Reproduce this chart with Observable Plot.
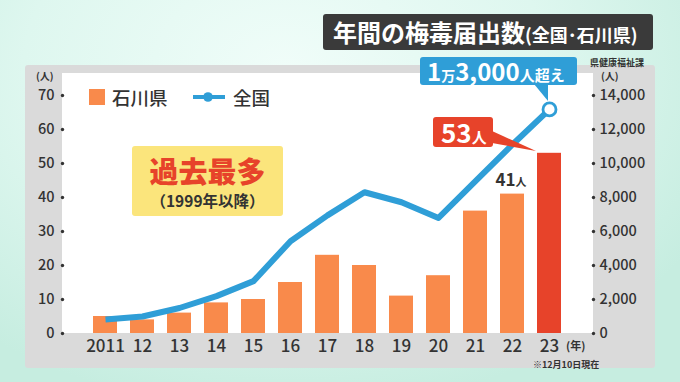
<!DOCTYPE html>
<html lang="ja">
<head>
<meta charset="utf-8">
<script src="https://cdn.jsdelivr.net/npm/d3@7"></script>
<script src="https://cdn.jsdelivr.net/npm/@observablehq/plot@0.6"></script>
<style>
  html, body { margin: 0; padding: 0; }
  body { width: 680px; height: 382px; overflow: hidden; font-family: "Noto Sans CJK JP", "Noto Sans", sans-serif; }
  #wrap { position: relative; width: 680px; height: 382px;
    background: radial-gradient(ellipse 70% 90% at 42% 18%, #f0fdf9 0%, #def7ef 55%, #c6ede0 100%); }
  .abs { position: absolute; }
  #panel { left: 25px; top: 65px; width: 630px; height: 303px; background: #dadada; border-radius: 3px; }
  #white { left: 62px; top: 73px; width: 531px; height: 260px; background: #ffffff; }
  #chart { left: 0; top: 0; }
  #title { left: 323px; top: 14px; width: 330px; height: 36px; background: #3a3a3a; border-radius: 3px;
    color: #fff; font-weight: 700; white-space: nowrap; box-sizing: border-box; padding-left: 10px; line-height: 36px; overflow: hidden; }
  #title .big { font-size: 24px; }
  #title .small { font-size: 18px; }
  #source { left: 560px; width: 84px; top: 58px; font-size: 9px; line-height: 10px; font-weight: 700; color: #333; text-align: right; }
  #yellow { left: 132px; top: 146px; width: 151px; height: 70px; background: #fbe57c; border-radius: 3px; text-align: center; }
  #yellow .a { position: absolute; left: 0; right: 0; top: 10px; font-size: 29px; line-height: 29px; font-weight: 900; color: #e7432a; }
  #yellow .b { position: absolute; left: 0; right: 0; top: 46px; font-size: 15.5px; line-height: 17px; font-weight: 700; color: #333; }
  .legend { font-size: 18.5px; font-weight: 500; color: #333; line-height: 20px; white-space: nowrap; }
  .note { color: #333; font-weight: 700; white-space: nowrap; }
</style>
</head>
<body>
<div id="wrap">
  <div id="panel" class="abs"></div>
  <div id="white" class="abs"></div>
  <div id="chart" class="abs"></div>
  <div id="title" class="abs"><span class="big">年間の梅毒届出数</span><span class="small">(全国･石川県)</span></div>
  <div id="source" class="abs">県健康福祉課</div>
  <div id="yellow" class="abs"><div class="a">過去最多</div><div class="b">（1999年以降）</div></div>
  <div class="abs" style="left:89px;top:89px;width:16px;height:16px;background:#f98a4b;"></div>
  <div class="abs legend" style="left:112px;top:87px;">石川県</div>
  <svg class="abs" style="left:190px;top:88px;" width="38" height="18"><line x1="3" y1="9" x2="35" y2="9" stroke="#2f9ed7" stroke-width="4"/><circle cx="18" cy="9" r="4.8" fill="#2f9ed7"/></svg>
  <div class="abs legend" style="left:233px;top:87px;">全国</div>
  <div class="abs note" style="left:36px;top:71px;font-size:10px;line-height:10px;">(人)</div>
  <div class="abs note" style="left:601px;top:71px;font-size:10px;line-height:10px;">(人)</div>
  <div class="abs note" style="left:566px;top:339px;font-size:11px;line-height:13px;">(年)</div>
  <div class="abs note" style="left:533px;top:359px;font-size:9px;line-height:11px;">※12月10日現在</div>
  <!-- callouts -->
  <svg class="abs" style="left:0;top:0;" width="680" height="382" pointer-events="none">
    <rect x="420" y="57" width="157" height="28" rx="3" fill="#2f9ed7"/>
    <polygon points="534,84 548,84 548,101" fill="#2f9ed7"/>
    <rect x="433" y="117" width="60" height="30" rx="3" fill="#e7432a"/>
    <polygon points="492,131 536,151 492,143" fill="#e7432a"/>
  </svg>
  <div class="abs" style="left:427px;top:56px;color:#fff;font-weight:700;white-space:nowrap;line-height:30px;">
    <span style="font-size:24px;">1</span><span style="font-size:14px;">万</span><span style="font-size:24px;">3,000</span><span style="font-size:15px;">人超え</span>
  </div>
  <div class="abs" style="left:441px;top:116px;color:#fff;font-weight:700;white-space:nowrap;line-height:32px;">
    <span style="font-size:26px;">53</span><span style="font-size:15px;">人</span>
  </div>
</div>
<script>
// ---- data ----
const years = ["2011","12","13","14","15","16","17","18","19","20","21","22","23"];
const ishikawa = [5, 4, 6, 9, 10, 15, 23, 20, 11, 17, 36, 41, 53];
const national = [830, 1000, 1500, 2200, 3080, 5430, 6950, 8310, 7720, 6800, 8960, 11120, 13180];
const leftTicks = [0, 10, 20, 30, 40, 50, 60, 70];
const rightTicks = [0, 2000, 4000, 6000, 8000, 10000, 12000, 14000];
const highlightYear = "23";
const labelYear = "22";

const ratio = rightTicks[rightTicks.length - 1] / leftTicks[leftTicks.length - 1];
const bars = years.map((y, i) => ({year: y, value: ishikawa[i]}));
const natl = years.map((y, i) => ({year: y, value: national[i], scaled: national[i] / ratio}));
const fmt = d3.format(",");

const ORANGE = "#f98a4b", RED = "#e7432a", BLUE = "#2f9ed7", INK = "#333333";

const chart = Plot.plot({
  width: 680,
  height: 382,
  marginLeft: 62,
  marginRight: 87,
  marginTop: 95,
  marginBottom: 49,
  style: {background: "transparent", fontFamily: "'Noto Sans CJK JP', 'Noto Sans', sans-serif", color: INK, overflow: "visible"},
  x: {type: "band", domain: years, range: [75.8, 578.7], padding: 0.34, label: null},
  y: {domain: [0, 70], label: null},
  marks: [
    Plot.barY(bars.filter(d => d.year !== highlightYear), {x: "year", y: "value", fill: ORANGE}),
    Plot.barY(bars.filter(d => d.year === highlightYear), {x: "year", y: "value", fill: RED}),
    Plot.line(natl, {x: "year", y: "scaled", stroke: BLUE, strokeWidth: 6, strokeLinejoin: "round", strokeLinecap: "butt"}),
    Plot.dot(natl.filter(d => d.year === highlightYear), {x: "year", y: "scaled", r: 6.5, fill: "#fff", stroke: BLUE, strokeWidth: 2.8}),
    // label 41人
    Plot.text(bars.filter(d => d.year === labelYear), {x: "year", y: "value", text: d => String(d.value), dy: -14, dx: 3, textAnchor: "end", fontSize: 17, fontWeight: 700, fill: INK}),
    Plot.text(bars.filter(d => d.year === labelYear), {x: "year", y: "value", text: () => "人", dy: -12, dx: 3, textAnchor: "start", fontSize: 11, fontWeight: 700, fill: INK}),
    // left axis
    Plot.axisY({anchor: "left", ticks: leftTicks, tickSize: 0, tickPadding: 8, fontSize: 14.5, fontWeight: 500, label: null}),
    Plot.dot(leftTicks, {y: d => d, frameAnchor: "left", r: 1.7, fill: INK}),
    // right axis (national, scaled)
    Plot.text(rightTicks, {y: d => d / ratio, text: d => fmt(d), frameAnchor: "right", textAnchor: "start", dx: 6, fontSize: 14.5, fontWeight: 500, fill: INK}),
    Plot.dot(rightTicks, {y: d => d / ratio, frameAnchor: "right", r: 1.7, fill: INK}),
    // x axis
    Plot.axisX({tickSize: 0, tickPadding: 6, fontSize: 17, fontWeight: 500, label: null})
  ]
});
document.getElementById("chart").appendChild(chart);
</script>
</body>
</html>
